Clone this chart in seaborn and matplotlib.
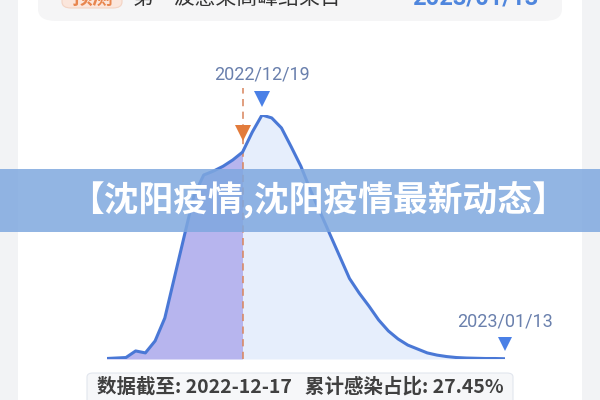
import numpy as np
import pandas as pd
import seaborn as sns
import matplotlib
matplotlib.use("Agg")
import matplotlib.pyplot as plt
from matplotlib.patches import Rectangle, FancyBboxPatch
from matplotlib.transforms import offset_copy

# ---------------- data ----------------
dates = pd.date_range("2022-12-03", "2023-01-13", freq="D")
values = [0.2, 0.4, 0.6, 3.3, 2.5, 7.4, 16.8, 33.6, 50.4, 67.0,
          75.4, 77.0, 79.0, 81.6, 84.8, 93.0, 100.0, 98.8, 94.7, 87.0,
          79.0, 69.0, 60.0, 51.0, 42.0, 33.0, 27.0, 21.7, 16.0, 11.5,
          8.2, 5.7, 4.1, 2.5, 1.6, 1.0, 0.6, 0.4, 0.3, 0.2, 0.2, 0.1]
cutoff_date = pd.Timestamp("2022-12-17")
peak_date = pd.Timestamp("2022-12-19")
end_date = pd.Timestamp("2023-01-13")
peak_label = "2022/12/19"
end_label = "2023/01/13"
banner_text = "【沈阳疫情,沈阳疫情最新动态】"
footer_text = "数据截至: 2022-12-17   累计感染占比: 27.45%"
card_tag = "预测"
card_title = "第一波感染高峰结束日"
card_date = "2023/01/13"

df = pd.DataFrame({"date": dates, "value": values})

sns.set_theme(style="white")
plt.rcParams["font.family"] = ["Noto Sans CJK SC", "DejaVu Sans"]

W, H = 600, 400
fig = plt.figure(figsize=(6, 4), dpi=100)
fig.patch.set_facecolor("white")

def fx(px):
    return px / W

def fy(py):
    return (H - py) / H

# side gray strips
fig.patches.append(Rectangle((0, 0), fx(18), 1, transform=fig.transFigure,
                             facecolor="#f2f3f5", edgecolor="none", zorder=-5))
fig.patches.append(Rectangle((fx(582), 0), 1 - fx(582), 1, transform=fig.transFigure,
                             facecolor="#f2f3f5", edgecolor="none", zorder=-5))

# top card (cut off at the top edge, as in the screenshot)
fig.patches.append(FancyBboxPatch((fx(38), fy(21)), fx(562) - fx(38), 0.2,
                                  boxstyle="round,pad=0,rounding_size=0.03",
                                  transform=fig.transFigure, facecolor="#f5f5f6",
                                  edgecolor="none", zorder=-4))
fig.patches.append(FancyBboxPatch((fx(62), fy(8)), fx(122) - fx(62), 0.1,
                                  boxstyle="round,pad=0,rounding_size=0.015",
                                  transform=fig.transFigure, facecolor="#fbe6dc",
                                  edgecolor="#f3d3c3", linewidth=0.8, zorder=-3))
fig.text(fx(92), fy(4), card_tag, ha="center", va="baseline", fontsize=15,
         color="#e8864f", fontweight="bold")
fig.text(fx(132), fy(4), card_title, ha="left", va="baseline", fontsize=15,
         color="#333333")
fig.text(fx(538), fy(4), card_date, ha="right", va="baseline", fontsize=17,
         color="#4f86dd", fontweight="bold", family=["Roboto", "DejaVu Sans"])

# main axes: dates mapped to x 106.5..505, values 0..100 mapped to y 359..115
ax = fig.add_axes([fx(106.5), fy(359), fx(505) - fx(106.5), (359 - 115) / H])
ax.patch.set_alpha(0)
ax.set_xlim(dates[0], dates[-1])
ax.set_ylim(0, 100)

d = df["date"]
v = df["value"]
ax.fill_between(d, v, where=(d <= cutoff_date), color="#b7b5ee", linewidth=0, zorder=1)
ax.fill_between(d, v, where=(d >= cutoff_date), color="#e6eefc", linewidth=0, zorder=1)
sns.lineplot(data=df, x="date", y="value", ax=ax, color="#4a78d6", linewidth=2.2,
             zorder=3, legend=False)
ax.axis("off")

# dashed cutoff line
ax.plot([cutoff_date, cutoff_date], [0, 111], color="#d9845c", linewidth=1.3,
        linestyle=(0, (4, 3)), alpha=0.85, clip_on=False, zorder=2)

cut_val = df.loc[df["date"] == cutoff_date, "value"].iloc[0]
peak_val = df.loc[df["date"] == peak_date, "value"].iloc[0]
end_val = df.loc[df["date"] == end_date, "value"].iloc[0]

ax.plot([cutoff_date], [cut_val], marker="v", markersize=11, color="#e27b3b",
        markeredgewidth=0, transform=offset_copy(ax.transData, fig=fig, y=19, units="dots"),
        clip_on=False, zorder=5)
ax.plot([peak_date], [peak_val], marker="v", markersize=11, color="#4a80e6",
        markeredgewidth=0, transform=offset_copy(ax.transData, fig=fig, y=16, units="dots"),
        clip_on=False, zorder=5)
ax.plot([end_date], [end_val], marker="v", markersize=10, color="#4a80e6",
        markeredgewidth=0, transform=offset_copy(ax.transData, fig=fig, y=15, units="dots"),
        clip_on=False, zorder=5)

ax.annotate(peak_label, (peak_date, peak_val), xytext=(0, 29), textcoords="offset points",
            ha="center", va="center", fontsize=13, color="#6a80ad",
            family=["Roboto", "DejaVu Sans"], annotation_clip=False)
ax.annotate(end_label, (end_date, end_val), xytext=(0, 26.5), textcoords="offset points",
            ha="center", va="center", fontsize=13, color="#6a80ad",
            family=["Roboto", "DejaVu Sans"], annotation_clip=False)

# banner overlay
fig.patches.append(Rectangle((0, fy(232)), 1, (232 - 169) / H, transform=fig.transFigure,
                             facecolor="#7fa8df", alpha=0.85, edgecolor="none", zorder=10))
fig.text(fx(318), fy(200), banner_text, ha="center", va="center", fontsize=25,
         color="white", fontweight="bold", zorder=11)

# footer box
fig.patches.append(FancyBboxPatch((fx(87), fy(410)), fx(513) - fx(87), (410 - 373) / H,
                                  boxstyle="round,pad=0,rounding_size=0.01",
                                  transform=fig.transFigure, facecolor="#f6f7f9",
                                  edgecolor="#e2e6ee", linewidth=0.8, zorder=6))
fig.text(fx(300.5), fy(386.5), footer_text, ha="center", va="center", fontsize=14,
         color="#404040", fontweight="bold", zorder=7)

fig.savefig("out.png", dpi=100)
